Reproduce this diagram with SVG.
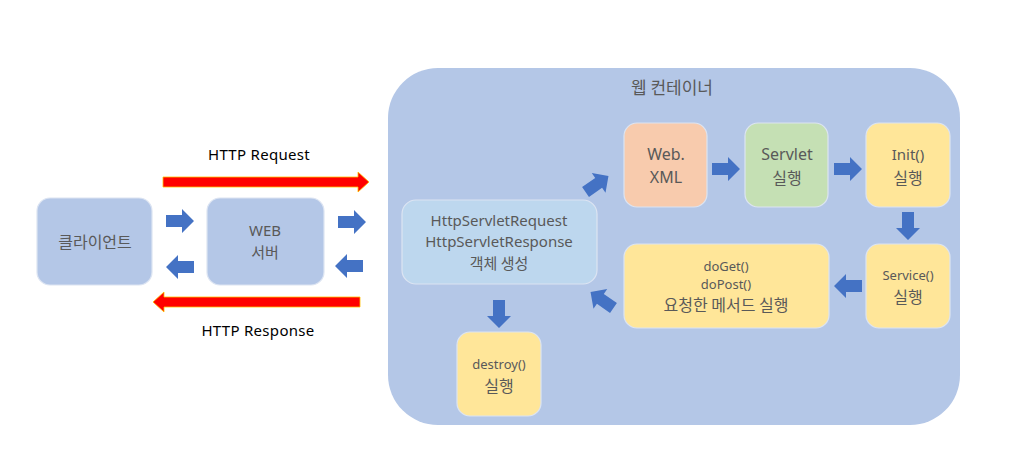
<svg xmlns="http://www.w3.org/2000/svg" width="1012" height="476" viewBox="0 0 1012 476">
<defs>
<style>
.t{font-family:"Noto Sans CJK KR","Noto Sans",sans-serif;fill:#595959;text-anchor:middle}
.l{font-family:"Noto Sans","Noto Sans CJK KR",sans-serif;fill:#595959;text-anchor:middle}
.box{stroke:#DCE4F2;stroke-width:1.2}
.blue{fill:#B4C7E7}
.lb{fill:#BDD7EE}
.or{fill:#F8CBAD}
.gr{fill:#C5E0B4}
.ye{fill:#FFE699}
.ba{fill:#4472C4}
.ra{fill:#FF0000;stroke:#FFC000;stroke-width:0.8}
</style>
<path id="ar" d="M-14,-6 H2 V-12 L14,0 L2,12 V6 H-14 Z"/>
</defs>
<rect width="1012" height="476" fill="#FFFFFF"/>
<g id="container">
<rect x="388" y="68" width="572" height="357" rx="50" class="blue"/>
<text x="672" y="94" class="t" font-size="17">웹 컨테이너</text>
</g>
<g id="client">
<rect x="37" y="198" width="115" height="87" rx="13" class="blue box"/>
<text x="95" y="248" class="t" font-size="16">클라이언트</text>
</g>
<g id="webserver">
<rect x="207" y="198" width="117" height="87" rx="13" class="blue box"/>
<text x="265" y="236" class="l" font-size="15">WEB</text>
<text x="265" y="258" class="t" font-size="15">서버</text>
</g>
<g id="httpobj">
<rect x="402" y="200" width="195" height="84" rx="14" class="lb box"/>
<text x="499" y="226" class="l" font-size="15">HttpServletRequest</text>
<text x="499" y="247" class="l" font-size="15">HttpServletResponse</text>
<text x="499" y="269" class="t" font-size="15">객체 생성</text>
</g>
<g id="webxml">
<rect x="624" y="123" width="83" height="84" rx="13" class="or box"/>
<text x="666" y="160" class="l" font-size="16">Web.</text>
<text x="666" y="183" class="l" font-size="16">XML</text>
</g>
<g id="servlet">
<rect x="745" y="123" width="83" height="84" rx="13" class="gr box"/>
<text x="787" y="160" class="l" font-size="16">Servlet</text>
<text x="787" y="184" class="t" font-size="16">실행</text>
</g>
<g id="init">
<rect x="866" y="123" width="84" height="84" rx="13" class="ye box"/>
<text x="908" y="160" class="l" font-size="15">Init()</text>
<text x="908" y="184" class="t" font-size="16">실행</text>
</g>
<g id="service">
<rect x="866" y="244" width="84" height="84" rx="13" class="ye box"/>
<text x="908" y="280" class="l" font-size="13">Service()</text>
<text x="908" y="303" class="t" font-size="16">실행</text>
</g>
<g id="doget">
<rect x="624" y="244" width="205" height="84" rx="13" class="ye box"/>
<text x="726" y="271" class="l" font-size="13">doGet()</text>
<text x="726" y="289" class="l" font-size="13">doPost()</text>
<text x="726" y="311" class="t" font-size="16">요청한 메서드 실행</text>
</g>
<g id="destroy">
<rect x="457" y="332" width="84" height="84" rx="13" class="ye box"/>
<text x="499" y="369" class="l" font-size="13">destroy()</text>
<text x="499" y="392" class="t" font-size="16">실행</text>
</g>
<g id="connectors">
<text x="259" y="160" class="l" font-size="15" style="fill:#000" letter-spacing="0.3">HTTP  Request</text>
<text x="258" y="336" class="l" font-size="15" style="fill:#000" letter-spacing="0.3">HTTP  Response</text>
<path class="ra" d="M163,177 H358 V172 L369,182 L358,192 V187 H163 Z"/>
<path class="ra" d="M360,297 H164 V292 L153,302 L164,312 V307 H360 Z"/>
<use href="#ar" class="ba" transform="translate(180,221)"/>
<use href="#ar" class="ba" transform="translate(180,267) rotate(180)"/>
<use href="#ar" class="ba" transform="translate(352,222)"/>
<use href="#ar" class="ba" transform="translate(349,266) rotate(180)"/>
<use href="#ar" class="ba" transform="translate(597,184) rotate(-35)"/>
<use href="#ar" class="ba" transform="translate(726,169)"/>
<use href="#ar" class="ba" transform="translate(848,169)"/>
<use href="#ar" class="ba" transform="translate(908,226) rotate(90)"/>
<use href="#ar" class="ba" transform="translate(848,286) rotate(180)"/>
<use href="#ar" class="ba" transform="translate(602,300) rotate(-145)"/>
<use href="#ar" class="ba" transform="translate(499,314) rotate(90)"/>
</g>
</svg>
